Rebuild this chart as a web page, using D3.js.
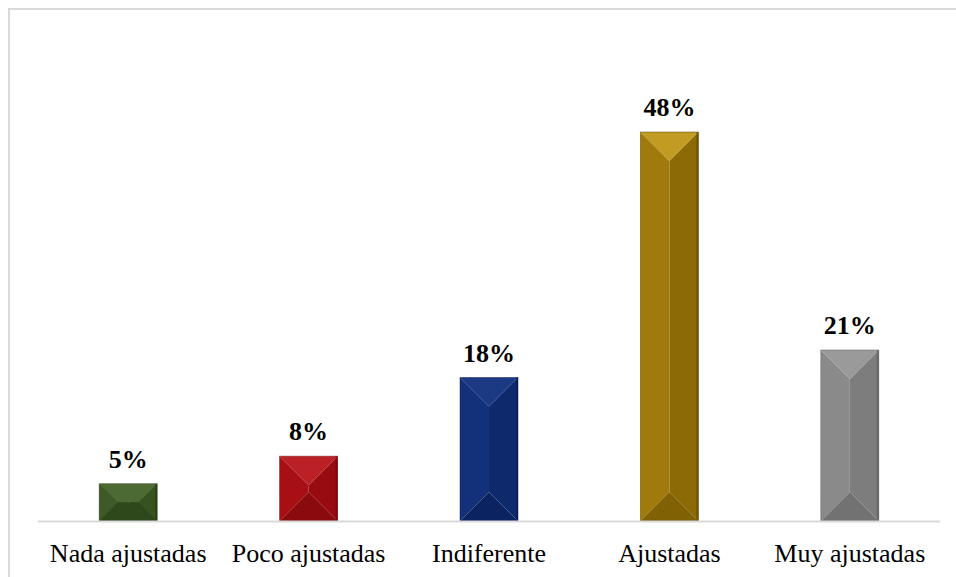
<!DOCTYPE html>
<html><head><meta charset="utf-8">
<script src="https://cdn.jsdelivr.net/npm/d3@7"></script>
<style>html,body{margin:0;padding:0;background:#fff;overflow:hidden}</style>
</head><body><svg id="c" width="956" height="577"></svg>
<script>
const categories = ["Nada ajustadas","Poco ajustadas","Indiferente","Ajustadas","Muy ajustadas"];
const values = [0.046,0.080,0.177,0.480,0.211];
const labels = ["5%","8%","18%","48%","21%"];
// face colors: top, left, right, bottom
const palettes = [
  {top:"#4c6a34",left:"#3e5a28",right:"#36521f",bottom:"#2f481b",edge:"#243a14"},
  {top:"#bb2026",left:"#a70f15",right:"#980b10",bottom:"#8a0a0e",edge:"#6e0509"},
  {top:"#1c3984",left:"#13307a",right:"#0e296c",bottom:"#0b2461",edge:"#071a4a"},
  {top:"#c29b22",left:"#a07b0c",right:"#8c6a05",bottom:"#806103",edge:"#5a4400"},
  {top:"#9a9a9a",left:"#8a8a8a",right:"#7d7d7d",bottom:"#727272",edge:"#5a5a5a"}
];
const FONT = "'Times New Roman', Times, 'Liberation Serif', serif";

const svg = d3.select("#c");
svg.append("rect").attr("x",9).attr("y",9).attr("width",1100).attr("height",700)
  .attr("fill","none").attr("stroke","#d9d9d9").attr("stroke-width",2);

const x = d3.scaleBand().domain(categories).range([38,940]).paddingInner(0.678).paddingOuter(0.339);
const y = d3.scaleLinear().domain([0,0.6]).range([521,34.75]);

const bw = 58;
const g = svg.append("g");
categories.forEach((c,i)=>{
  const cx = x(c)+x.bandwidth()/2;
  const x0 = cx-bw/2, x1 = cx+bw/2;
  const yt = y(values[i]), yb = y(0);
  const h = yb-yt;
  const b = Math.min(bw/2, h/2);
  const p = palettes[i];
  const gg = g.append("g");
  const poly = (pts,fill)=>gg.append("polygon").attr("points",pts.map(q=>q.join(",")).join(" ")).attr("fill",fill);
  poly([[x0,yt],[cx,yt+b],[cx,yb-b],[x0,yb]],p.left);
  poly([[x1,yt],[cx,yt+b],[cx,yb-b],[x1,yb]],p.right);
  poly([[x0,yt],[x1,yt],[x1-b,yt+b],[x0+b,yt+b]],p.top);
  poly([[x0,yb],[x1,yb],[x1-b,yb-b],[x0+b,yb-b]],p.bottom);
  gg.append("rect").attr("x",x1-2).attr("y",yt).attr("width",2).attr("height",h).attr("fill",p.edge).attr("opacity",0.6);
  gg.append("rect").attr("x",x0).attr("y",yt).attr("width",bw).attr("height",h)
    .attr("fill","none").attr("stroke",p.edge).attr("stroke-width",0.8).attr("stroke-opacity",0.6);
  svg.append("text").attr("x",cx).attr("y",yt-16).attr("text-anchor","middle")
    .attr("font-family",FONT).attr("font-weight","bold")
    .attr("font-size",26).attr("fill","#000").text(labels[i]);
});

svg.append("line").attr("x1",38).attr("x2",940).attr("y1",521.5).attr("y2",521.5)
  .attr("stroke","#d9d9d9").attr("stroke-width",2);

svg.selectAll("text.cat").data(categories).enter().append("text").attr("class","cat")
  .attr("x",d=>x(d)+x.bandwidth()/2).attr("y",562).attr("text-anchor","middle")
  .attr("font-family",FONT).attr("font-size",26)
  .attr("fill","#000").text(d=>d);
</script></body></html>
